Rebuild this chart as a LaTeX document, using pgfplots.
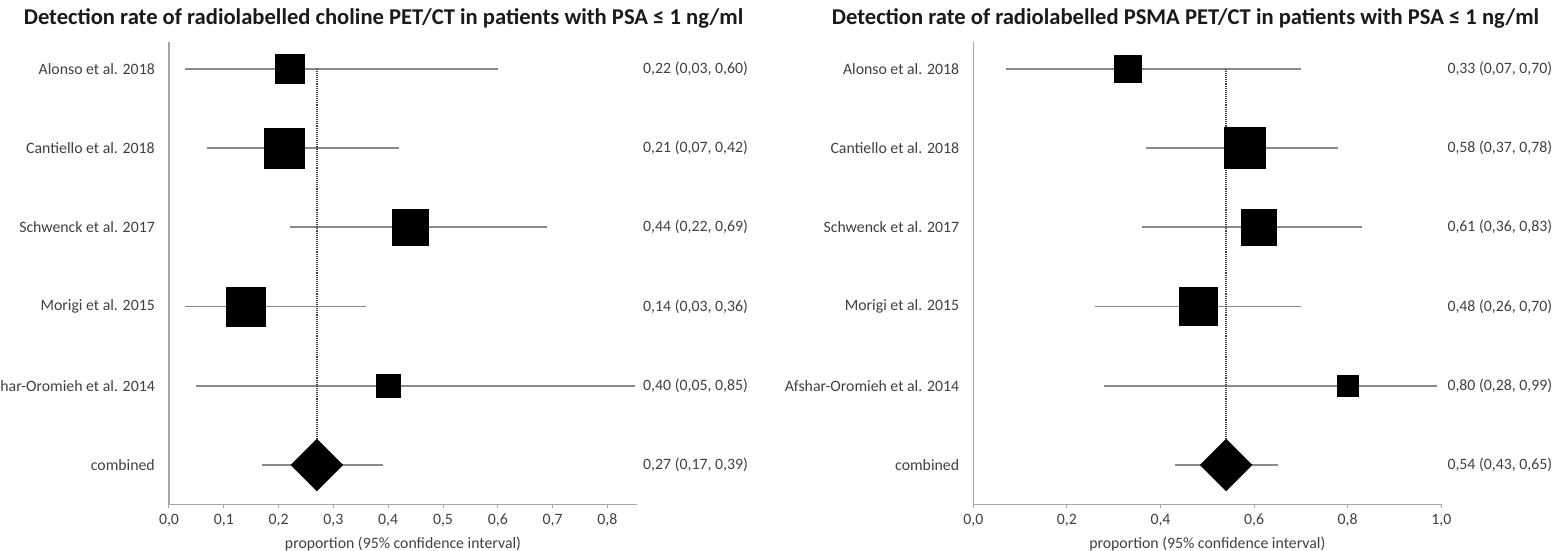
\documentclass[border=0pt]{standalone}
\usepackage{pgfplots}
\pgfplotsset{compat=1.18}
\usepackage{pgfplotstable}
\usepackage{fontspec}
\setmainfont{Carlito}
\definecolor{axisgray}{HTML}{A6A6A6}
\definecolor{cigray}{HTML}{8A8A8A}
\definecolor{txtgray}{HTML}{404040}
\definecolor{dotgray}{HTML}{404040}
\definecolor{titleblack}{HTML}{1A1A1A}
\newcommand\fs{\fontsize{15.8}{18}\selectfont}

% left: choline
\pgfplotstableread{
y est em ep half
6 0.22 0.19 0.38 14.5
5 0.21 0.14 0.21 20.0
4 0.44 0.22 0.25 18.3
3 0.14 0.11 0.22 19.5
2 0.40 0.35 0.45 11.6
}\leftdata
\pgfplotstableread{
y est em ep
1 0.27 0.10 0.12
}\leftcomb
% right: PSMA
\pgfplotstableread{
y est em ep half
6 0.33 0.26 0.37 13.3
5 0.58 0.21 0.20 20.5
4 0.61 0.25 0.22 17.8
3 0.48 0.22 0.22 19.1
2 0.80 0.52 0.19 10.5
}\rightdata
\pgfplotstableread{
y est em ep
1 0.54 0.11 0.11
}\rightcomb

\pgfplotsset{forest/.style={
  scale only axis, width=468pt, height=462.6pt,
  ymin=0.504, ymax=6.341, xmin=0,
  axis x line=bottom, axis y line=left,
  axis line style={draw=axisgray, line width=1.2pt, -},
  tick align=outside, major tick length=4pt,
  x tick style={draw=axisgray, line width=1pt},
  y tick style={draw=none},
  ytick={1,2,3,4,5,6},
  yticklabels={combined, Afshar-Oromieh et al. 2014, Morigi et al. 2015, Schwenck et al. 2017, Cantiello et al. 2018, Alonso et al. 2018},
  yticklabel style={font=\fs, text=txtgray, anchor=east, inner sep=0pt, xshift=-10pt},
  xticklabel style={font=\fs, text=txtgray, yshift=-2pt},
  xlabel={proportion (95\% confidence interval)},
  xlabel style={font=\fs, text=txtgray, at={(axis description cs:0.5,0)}, anchor=center, yshift=-39.5pt},
  /pgf/number format/.cd, use comma, fixed, fixed zerofill, precision=1, assume math mode=true,
  /pgfplots/.cd,
  clip=false,
}}
\pgfplotsset{
  cistyle/.style={only marks, mark=none, error bars/.cd, x dir=both, x explicit, error mark=none,
    error bar style={draw=cigray, line width=1.8pt}},
  sqstyle/.style={only marks, mark=square*, scatter,
    scatter/use mapped color={draw=black, fill=black},
    visualization depends on={\thisrow{half} \as \msz},
    scatter/@pre marker code/.append style={/tikz/mark size=\msz},
    line width=0.3pt},
  diastyle/.style={only marks, mark=square*, mark size=18.4pt, mark options={rotate=45, draw=black, fill=black, line width=0.3pt}},
}

\begin{document}
\begin{tikzpicture}
\path[use as bounding box] (0,0) rectangle (1560pt,551pt);
\clip (0,0) rectangle (1560pt,551pt);

\node[font=\bfseries\fontsize{22.6}{26}\selectfont, text=titleblack] at (383.5pt,533pt) {Detection rate of radiolabelled choline PET/CT in patients with PSA ≤ 1 ng/ml};
\node[font=\bfseries\fontsize{22.6}{26}\selectfont, text=titleblack] at (1185.5pt,533pt) {Detection rate of radiolabelled PSMA PET/CT in patients with PSA ≤ 1 ng/ml};

\begin{axis}[forest, at={(169pt,46.7pt)}, anchor=south west, xmax=0.854,
  xtick={0,0.1,0.2,0.3,0.4,0.5,0.6,0.7,0.8}]
  \addplot[cistyle] table[x=est, y=y, x error minus=em, x error plus=ep] {\leftdata};
  \addplot[cistyle] table[x=est, y=y, x error minus=em, x error plus=ep] {\leftcomb};
  \addplot[densely dotted, draw=dotgray, line width=1.1pt] coordinates {(0.27,6) (0.27,1.33)};
  \addplot[sqstyle] table[x=est, y=y] {\leftdata};
  \addplot[diastyle] table[x=est, y=y] {\leftcomb};
  \begin{scope}[every node/.style={anchor=west, inner sep=0pt, font=\fs, text=txtgray}]
  \node at (axis cs:0.865,6) {0,22 (0,03, 0,60)};
  \node at (axis cs:0.865,5) {0,21 (0,07, 0,42)};
  \node at (axis cs:0.865,4) {0,44 (0,22, 0,69)};
  \node at (axis cs:0.865,3) {0,14 (0,03, 0,36)};
  \node at (axis cs:0.865,2) {0,40 (0,05, 0,85)};
  \node at (axis cs:0.865,1) {0,27 (0,17, 0,39)};
  \end{scope}
\end{axis}

\begin{axis}[forest, at={(973.3pt,46.7pt)}, anchor=south west, xmax=1,
  xtick={0,0.2,0.4,0.6,0.8,1}]
  \addplot[cistyle] table[x=est, y=y, x error minus=em, x error plus=ep] {\rightdata};
  \addplot[cistyle] table[x=est, y=y, x error minus=em, x error plus=ep] {\rightcomb};
  \addplot[densely dotted, draw=dotgray, line width=1.1pt] coordinates {(0.54,6) (0.54,1.33)};
  \addplot[sqstyle] table[x=est, y=y] {\rightdata};
  \addplot[diastyle] table[x=est, y=y] {\rightcomb};
  \begin{scope}[every node/.style={anchor=west, inner sep=0pt, font=\fs, text=txtgray}]
  \node at (axis cs:1.0128,6) {0,33 (0,07, 0,70)};
  \node at (axis cs:1.0128,5) {0,58 (0,37, 0,78)};
  \node at (axis cs:1.0128,4) {0,61 (0,36, 0,83)};
  \node at (axis cs:1.0128,3) {0,48 (0,26, 0,70)};
  \node at (axis cs:1.0128,2) {0,80 (0,28, 0,99)};
  \node at (axis cs:1.0128,1) {0,54 (0,43, 0,65)};
  \end{scope}
\end{axis}
\end{tikzpicture}
\end{document}
